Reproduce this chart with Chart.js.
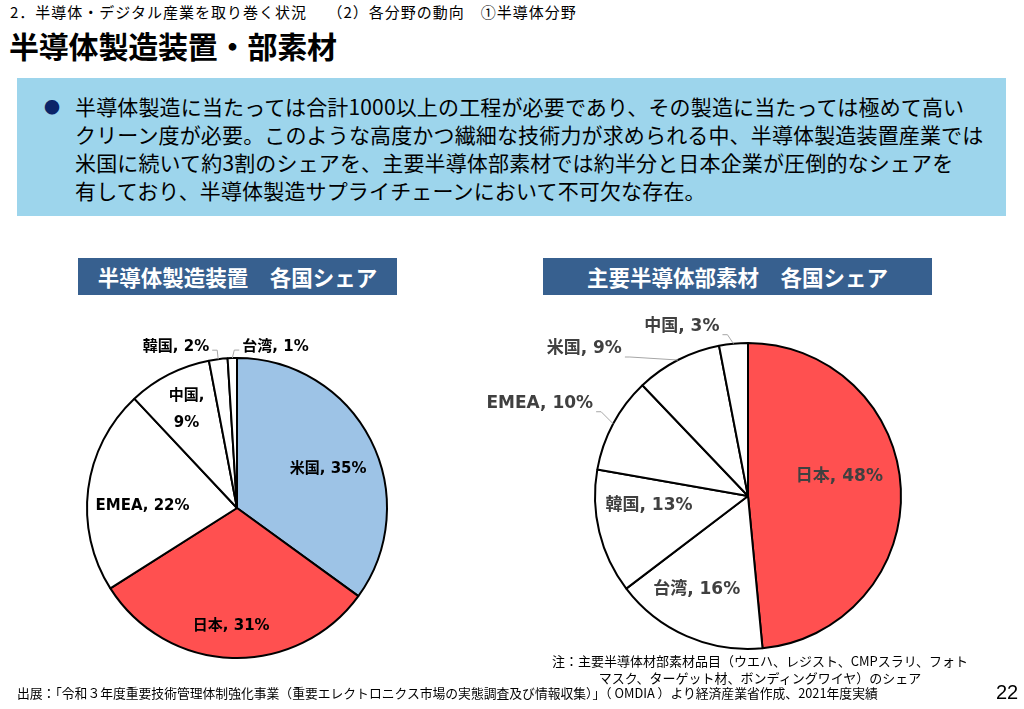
<!DOCTYPE html>
<html lang="ja">
<head>
<meta charset="utf-8">
<script src="https://cdn.jsdelivr.net/npm/chart.js@4"></script>
<style>
  body { margin: 0; width: 1024px; height: 709px; overflow: hidden; background: #fff;
         font-family: "Noto Sans CJK JP", sans-serif; color: #000; position: relative; }
  .abs { position: absolute; }
  #sub { left: 10px; top: 2px; font-size: 15px; line-height: 20px; letter-spacing: 1px; white-space: pre; }
  #title { left: 9px; top: 26px; font-size: 30px; line-height: 38px; font-weight: 700; letter-spacing: -0.2px; }
  #box { left: 17px; top: 78px; width: 989px; height: 138px; background: #9DD5EC; }
  #bullet { left: 44px; top: 95px; font-size: 16px; line-height: 22px; color: #0B2468; }
  #boxtext { left: 75px; top: 92px; font-size: 21px; line-height: 28px; letter-spacing: 0.15px; white-space: pre; }
  .head { top: 258px; height: 37px; background: #37608F; color: #fff; font-weight: 700;
          font-size: 21.5px; line-height: 37px; text-align: center; white-space: pre; }
  #note { left: 530px; top: 652px; width: 460px; font-size: 13px; line-height: 17px; text-align: center; }
  #src { left: 17px; top: 684px; font-size: 12.8px; line-height: 18px; white-space: pre; }
  #page { left: 996px; top: 680px; font-size: 20px; line-height: 24px; font-family: "Liberation Sans", sans-serif; }
  canvas { position: absolute; }
</style>
</head>
<body>
<div class="abs" id="sub">2．半導体・デジタル産業を取り巻く状況　 （2）各分野の動向　①半導体分野</div>
<div class="abs" id="title">半導体製造装置・部素材</div>
<div class="abs" id="box"></div>
<div class="abs" id="bullet">●</div>
<div class="abs" id="boxtext">半導体製造に当たっては合計1000以上の工程が必要であり、その製造に当たっては極めて高い
クリーン度が必要。このような高度かつ繊細な技術力が求められる中、半導体製造装置産業では
米国に続いて約3割のシェアを、主要半導体部素材では約半分と日本企業が圧倒的なシェアを
有しており、半導体製造サプライチェーンにおいて不可欠な存在。</div>
<div class="abs head" style="left:78px;width:319px;">半導体製造装置　各国シェア</div>
<div class="abs head" style="left:543px;width:389px;">主要半導体部素材　各国シェア</div>

<canvas id="equip" width="360" height="360" style="left:57px;top:328px;"></canvas>
<canvas id="materials" width="560" height="360" style="left:468px;top:316px;"></canvas>

<div class="abs" id="note">注：主要半導体材部素材品目（ウエハ、レジスト、CMPスラリ、フォト<br>マスク、ターゲット材、ボンディングワイヤ）のシェア</div>
<div class="abs" id="src">出展：「令和３年度重要技術管理体制強化事業（重要エレクトロニクス市場の実態調査及び情報収集）」（ OMDIA ）より経済産業省作成、2021年度実績</div>
<div class="abs" id="page">22</div>

<script>
// 半導体製造装置 各国シェア (%)
const equipCountries = ["米国", "日本", "EMEA", "中国", "韓国", "台湾"]
const equipShares = [35, 31, 22, 9, 2, 1]

// 主要半導体部素材 各国シェア (%)
const materialCountries = ["日本", "台湾", "韓国", "EMEA", "米国", "中国"]
const materialShares = [48, 16, 13, 10, 9, 3]

const BLUE = "#9DC3E6"
const RED = "#FF5050"

// ラベル配置: f = 内側 (半径比)、da = 角度補正(度)。f が無いものは引き出し線付きで外側
const equipPlace = [
  { f: 0.66, da: 4 }, { f: 0.79, da: 1 }, { f: 0.63, da: -6 }, { f: 0.74, wrap: true },
  { dx: -1, dy: -9, side: "left", lift: -3 },
  { dx: 2, dy: -8, side: "right", lift: -3 }
]
const materialPlace = [
  { f: 0.61, da: -9 }, { f: 0.70, da: 5 }, { f: 0.65, da: 8 },
  { dx: -12, dy: -12, side: "left", lift: -8 },
  { dx: -48, dy: -3, side: "left", lift: -8 },
  { dx: -6, dy: -9, side: "left", lift: -8 }
]

const sliceLabels = {
  id: "sliceLabels",
  afterDraw(chart, args, opts) {
    const ctx = chart.ctx
    const meta = chart.getDatasetMeta(0)
    const names = chart.data.labels
    const values = chart.data.datasets[0].data
    ctx.save()
    ctx.font = opts.font
    ctx.fillStyle = opts.color
    meta.data.forEach((arc, i) => {
      const p = opts.place[i]
      const { x, y, startAngle, endAngle, outerRadius } =
        arc.getProps(["x", "y", "startAngle", "endAngle", "outerRadius"], true)
      const mid = (startAngle + endAngle) / 2
      const text = `${names[i]}, ${values[i]}%`
      if (p.f) {
        const a = mid + (p.da || 0) * Math.PI / 180
        const lx = x + Math.cos(a) * outerRadius * p.f
        const ly = y + Math.sin(a) * outerRadius * p.f
        ctx.textAlign = "center"
        ctx.textBaseline = "middle"
        if (p.wrap) {
          ctx.fillText(`${names[i]},`, lx, ly - 13)
          ctx.fillText(`${values[i]}%`, lx, ly + 14)
        } else {
          ctx.fillText(text, lx, ly)
        }
      } else {
        const ax = x + Math.cos(mid) * outerRadius
        const ay = y + Math.sin(mid) * outerRadius
        const ex = ax + p.dx, ey = ay + p.dy
        const dir = p.side === "left" ? -1 : 1
        const tx = ex + dir * 5
        ctx.strokeStyle = "#A6A6A6"
        ctx.lineWidth = 1
        ctx.beginPath()
        ctx.moveTo(ax, ay)
        ctx.lineTo(ex, ey)
        ctx.lineTo(tx, ey)
        ctx.stroke()
        ctx.textAlign = dir < 0 ? "right" : "left"
        ctx.textBaseline = "middle"
        ctx.fillText(text, tx + dir * 3, ey + p.lift)
      }
    })
    ctx.restore()
  }
}

function pie(el, labels, data, colors, radius, labelOpts) {
  return new Chart(document.getElementById(el), {
    type: "pie",
    data: {
      labels,
      datasets: [{
        data,
        backgroundColor: colors,
        borderColor: "#000",
        borderWidth: 2,
        radius
      }]
    },
    options: {
      responsive: false,
      animation: false,
      layout: { padding: 0 },
      plugins: {
        legend: { display: false },
        tooltip: { enabled: false },
        sliceLabels: labelOpts
      }
    },
    plugins: [sliceLabels]
  })
}

pie("equip", equipCountries, equipShares,
  [BLUE, RED, "#fff", "#fff", "#fff", "#fff"], 150,
  { font: "bold 15px 'DejaVu Sans', 'Noto Sans CJK JP'", color: "#000", place: equipPlace })

pie("materials", materialCountries, materialShares,
  [RED, "#fff", "#fff", "#fff", "#fff", "#fff"], 153,
  { font: "bold 17px 'DejaVu Sans', 'Noto Sans CJK JP'", color: "#404040", place: materialPlace })
</script>
</body>
</html>
